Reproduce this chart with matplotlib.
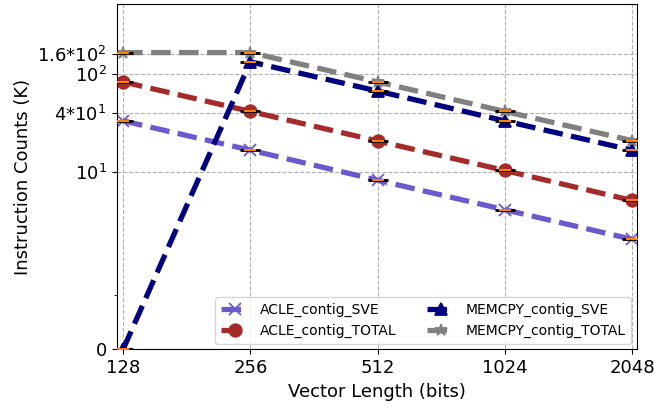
import numpy as np
import matplotlib
matplotlib.use('Agg')
import matplotlib.pyplot as plt
from matplotlib.ticker import FixedLocator, NullFormatter

# vector lengths and instruction counts (K)
vl = [128, 256, 512, 1024, 2048]
acle_sve = [33.0, 16.6, 8.2, 4.1, 2.05]
acle_total = [82.4, 41.2, 20.6, 10.3, 5.1]
memcpy_sve = [0.0, 132.0, 66.5, 33.0, 16.6]
memcpy_total = [164.0, 164.0, 82.4, 41.2, 20.8]

series = [
	('ACLE_contig_SVE', acle_sve, '#6a5acd', 'x'),
	('ACLE_contig_TOTAL', acle_total, '#a52a2a', 'o'),
	('MEMCPY_contig_SVE', memcpy_sve, '#000080', '^'),
	('MEMCPY_contig_TOTAL', memcpy_total, '#808080', '*'),
]

yticks = [0, 10, 40, 100, 160]
yticklabels = ['0', '10$^1$', '4*10$^1$', '10$^2$', '1.6*10$^2$']

fig = plt.figure(figsize=(6.55, 4.09), dpi=100)
ax = fig.add_axes([0.178, 0.146, 0.7945, 0.844])

for name, vals, col, mk in series:
	ax.plot(vl, vals, linestyle='--', linewidth=3.8, color=col, marker=mk,
			markersize=9, markeredgewidth=1.3, label=name)

# small summary bars on top of each point
for name, vals, col, mk in series:
	ax.plot(vl, vals, linestyle='none', marker='_', markersize=14,
			markeredgewidth=2.0, color='black', zorder=4)
	ax.plot(vl, vals, linestyle='none', marker='_', markersize=8.5,
			markeredgewidth=1.5, color='#ff7f0e', zorder=5)

ax.set_xscale('log', base=2)
ax.set_yscale('symlog', linthresh=2)
ax.set_xlim(123.5, 2105)
ax.set_ylim(0, 512)

ax.set_xticks(vl)
ax.set_xticklabels([str(v) for v in vl])
ax.xaxis.set_minor_locator(FixedLocator([]))
ax.set_yticks(yticks)
ax.set_yticklabels(yticklabels)
ax.yaxis.set_minor_locator(FixedLocator([1]))
ax.yaxis.set_minor_formatter(NullFormatter())
ax.tick_params(axis='both', labelsize=13)

ax.grid(True, which='major', linestyle='--', color='#b0b0b0', linewidth=0.8)

ax.set_xlabel('Vector Length (bits)', fontsize=13)
ax.set_ylabel('Instruction Counts (K)', fontsize=13)

ax.legend(loc='lower right', ncol=2, fontsize=10, borderaxespad=0.4,
		  columnspacing=2.2, handletextpad=0.8)

plt.savefig('out.png', dpi=100)
